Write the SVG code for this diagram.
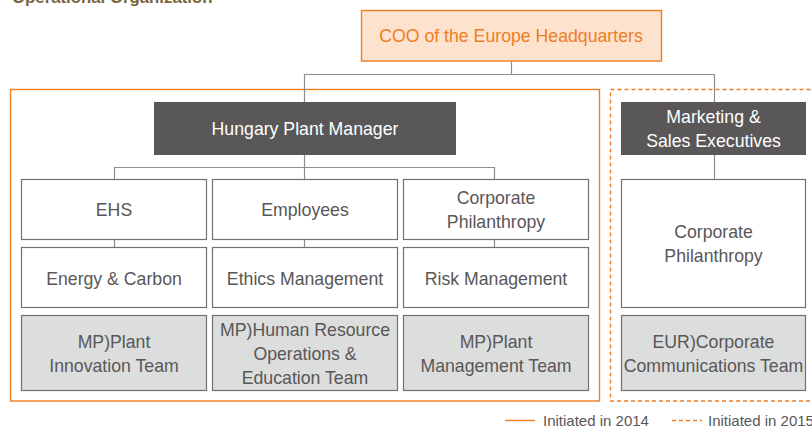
<svg xmlns="http://www.w3.org/2000/svg" width="812" height="429" viewBox="0 0 812 429">
<style>
text{font-family:"Liberation Sans",Arial,sans-serif;font-size:17.7px;fill:#595757;text-anchor:middle}
.box{fill:#ffffff;stroke:#727171;stroke-width:1.2}
.team{fill:#dcdddd;stroke:#727171;stroke-width:1.2}
.dark{fill:#595757}
.wt{fill:#ffffff}
.conn{fill:none;stroke:#8c8c8c;stroke-width:1.2}
.frame{fill:none;stroke:#ef7d22;stroke-width:1.4}
.dash{stroke-dasharray:4 3}
.leg{font-size:15px;text-anchor:start}
</style>
<rect width="812" height="429" fill="#ffffff"/>
<text x="12" y="3" style="font-size:16.8px;font-weight:bold;fill:#7a6441;text-anchor:start">Operational Organization</text>

<g id="frames">
<rect class="frame" x="10.5" y="89.5" width="589" height="311.5"/>
<rect class="frame dash" x="610.5" y="89.5" width="210" height="311.5"/>
</g>

<g id="connectors">
<path class="conn" d="M511.5 61V74.5H304.5V102M511.5 74.5H714.5V102"/>
<path class="conn" d="M304.5 155V179M114.5 179V167.5H494.5V179"/>
<path class="conn" d="M714.5 155V179"/>
<path class="conn" d="M114.5 239V247M304.5 239V247M494.5 239V247"/>
</g>

<g id="coo">
<rect x="361.5" y="10.5" width="300" height="50.5" fill="#fde3cd" stroke="#ef7d22" stroke-width="1.4"/>
<text x="511" y="42" style="fill:#ef7d22">COO of the Europe Headquarters</text>
</g>

<g id="hungary-plant-manager">
<rect class="dark" x="154" y="102" width="302" height="53"/>
<text class="wt" x="305" y="135">Hungary Plant Manager</text>
</g>

<g id="marketing-sales">
<rect class="dark" x="621" y="102" width="185" height="53"/>
<text class="wt" x="713.5" y="123">Marketing &amp;</text>
<text class="wt" x="713.5" y="147">Sales Executives</text>
</g>

<g id="ehs">
<rect class="box" x="21.5" y="179.5" width="185" height="60"/>
<text x="114" y="216">EHS</text>
</g>
<g id="employees">
<rect class="box" x="212.5" y="179.5" width="185" height="60"/>
<text x="305" y="216">Employees</text>
</g>
<g id="corporate-philanthropy-1">
<rect class="box" x="403.5" y="179.5" width="185" height="60"/>
<text x="496" y="203.5">Corporate</text>
<text x="496" y="227.5">Philanthropy</text>
</g>

<g id="energy-carbon">
<rect class="box" x="21.5" y="247.5" width="185" height="60"/>
<text x="114" y="284.5">Energy &amp; Carbon</text>
</g>
<g id="ethics-management">
<rect class="box" x="212.5" y="247.5" width="185" height="60"/>
<text x="305" y="284.5">Ethics Management</text>
</g>
<g id="risk-management">
<rect class="box" x="403.5" y="247.5" width="185" height="60"/>
<text x="496" y="284.5">Risk Management</text>
</g>

<g id="plant-innovation-team">
<rect class="team" x="21.5" y="315.5" width="185" height="75"/>
<text x="114" y="348">MP)Plant</text>
<text x="114" y="372">Innovation Team</text>
</g>
<g id="hr-operations-team">
<rect class="team" x="212.5" y="315.5" width="185" height="75"/>
<text x="305" y="336">MP)Human Resource</text>
<text x="305" y="360">Operations &amp;</text>
<text x="305" y="384">Education Team</text>
</g>
<g id="plant-management-team">
<rect class="team" x="403.5" y="315.5" width="185" height="75"/>
<text x="496" y="348">MP)Plant</text>
<text x="496" y="372">Management Team</text>
</g>

<g id="corporate-philanthropy-2">
<rect class="box" x="621.5" y="179.5" width="184" height="128"/>
<text x="713.5" y="237.5">Corporate</text>
<text x="713.5" y="262">Philanthropy</text>
</g>
<g id="corporate-communications-team">
<rect class="team" x="621.5" y="315.5" width="184" height="75"/>
<text x="713.5" y="348">EUR)Corporate</text>
<text x="713.5" y="372">Communications Team</text>
</g>

<g id="legend">
<line x1="505" y1="420.5" x2="535" y2="420.5" stroke="#ef7d22" stroke-width="1.4"/>
<text class="leg" x="543" y="426">Initiated in 2014</text>
<line x1="672" y1="420.5" x2="702" y2="420.5" stroke="#ef7d22" stroke-width="1.4" stroke-dasharray="4 3"/>
<text class="leg" x="708" y="426">Initiated in 2015</text>
</g>
</svg>
